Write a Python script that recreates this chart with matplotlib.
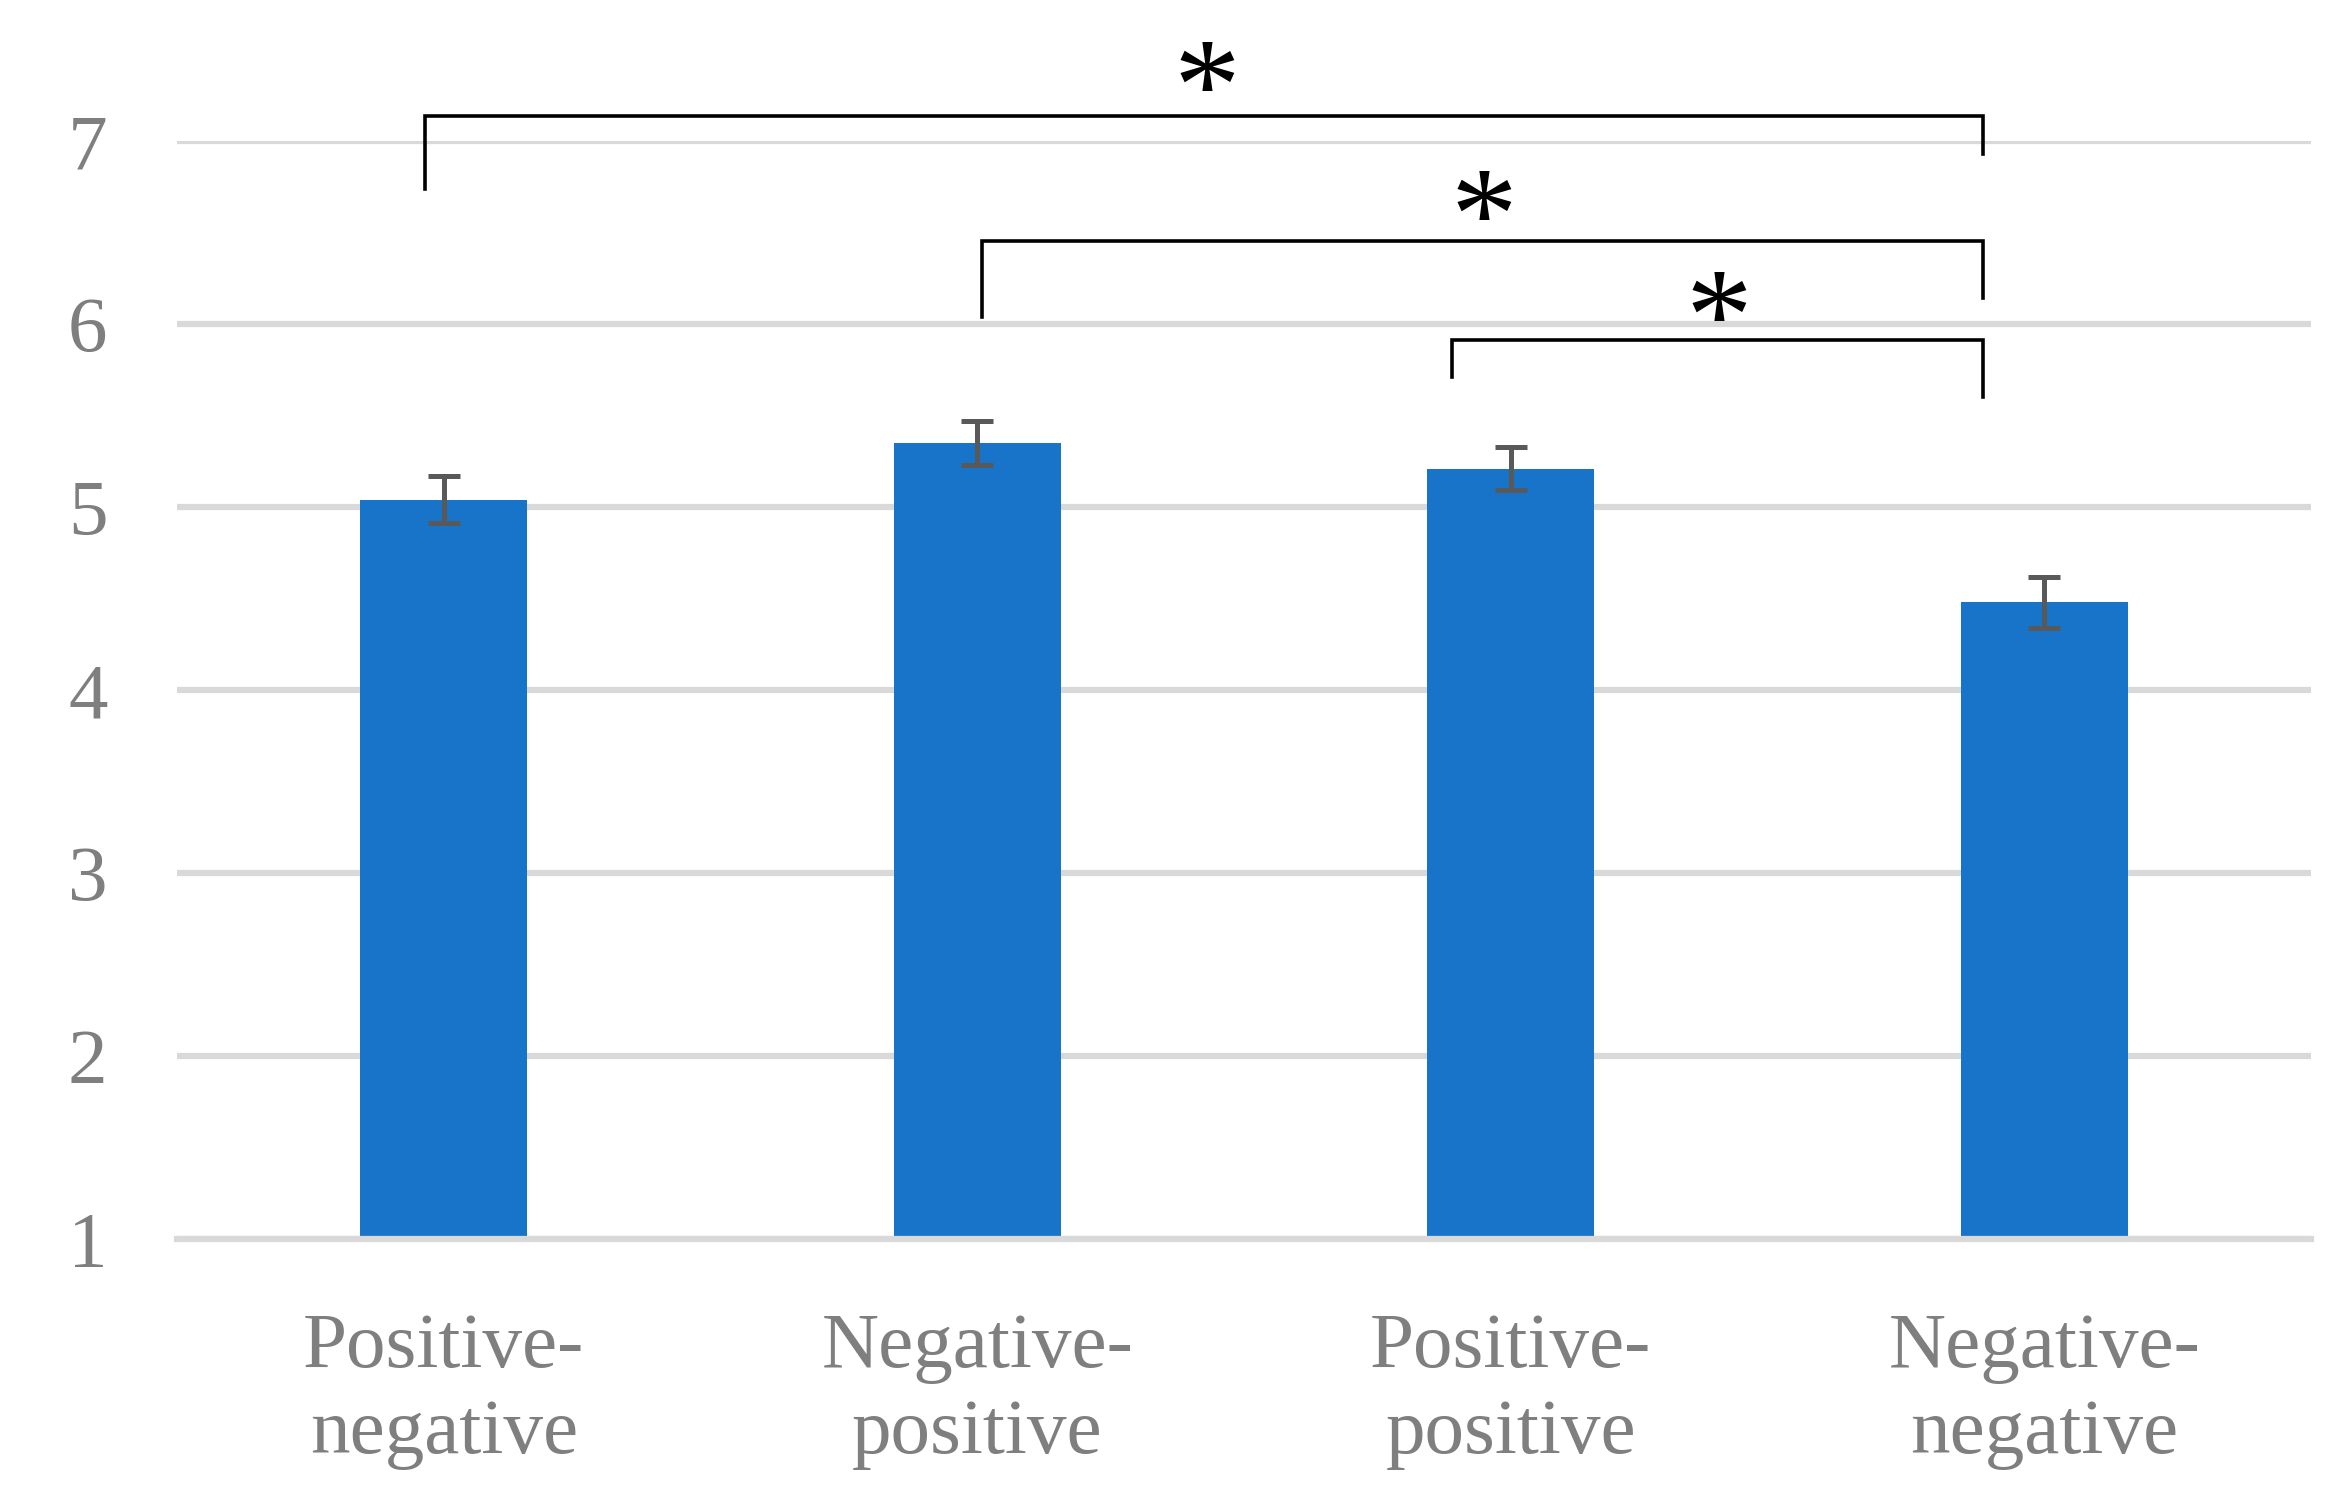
import matplotlib.pyplot as plt

# -------------------------------
# DATA
# -------------------------------
categories = ["Positive-\nnegative", "Negative-\npositive", "Positive-\npositive", "Negative-\nnegative"]
means = [5.04, 5.35, 5.21, 4.48]
errors = [0.13, 0.12, 0.12, 0.14]
y_ticks = [1, 2, 3, 4, 5, 6, 7]

# significance brackets: (left x, right x, top y, left leg bottom, right leg bottom)
brackets = [
    (-0.035, 2.885, 7.137, 6.74, 6.93),
    (1.009, 2.885, 6.454, 6.04, 6.14),
    (1.89, 2.885, 5.913, 5.71, 5.60),
]
stars = [(1.43, 7.24), (1.95, 6.53), (2.39, 5.98)]

# -------------------------------
# STYLE
# -------------------------------
BAR_COLOR = "#1874c9"
GRID_COLOR = "#d9d9d9"
TEXT_COLOR = "#7f7f7f"
ERR_COLOR = "#595959"
FONT = ["Liberation Serif", "DejaVu Serif"]

plt.rcParams["font.family"] = FONT

fig = plt.figure(figsize=(23.39, 15.06), dpi=100)
ax = fig.add_axes([0.0757, 0.1773, 0.9124, 0.7291])

x = list(range(len(categories)))
ax.bar(x, means, width=0.313, bottom=0, color=BAR_COLOR, zorder=2)
ax.errorbar(x, means, yerr=errors, fmt="none", ecolor=ERR_COLOR,
            elinewidth=3.6, capsize=11.5, capthick=3.6, zorder=3)

ax.set_xlim(-0.5, len(categories) - 0.5)
ax.set_ylim(1, 7)
ax.set_yticks(y_ticks)
ax.set_xticks(x)
ax.set_xticklabels(categories, linespacing=1.27)

for s in ax.spines.values():
    s.set_visible(False)

ax.yaxis.grid(True, color=GRID_COLOR, linewidth=4.5, zorder=0)
ax.set_axisbelow(True)
ax.axhline(1, color=GRID_COLOR, linewidth=4.5, zorder=4, clip_on=False)

ax.tick_params(axis="both", length=0, labelsize=57, labelcolor=TEXT_COLOR)
ax.tick_params(axis="y", pad=50)
ax.tick_params(axis="x", pad=53)

# -------------------------------
# SIGNIFICANCE MARKS
# -------------------------------
for x0, x1, top, lb, rb in brackets:
    ax.plot([x0, x0, x1, x1], [lb, top, top, rb], color="black",
            linewidth=2.6, clip_on=False, zorder=5, solid_joinstyle="miter")

for sx, sy in stars:
    ax.text(sx, sy, "*", fontsize=96, ha="center", va="center",
            color="black", clip_on=False, zorder=5)

fig.savefig("out.png", dpi=100)
